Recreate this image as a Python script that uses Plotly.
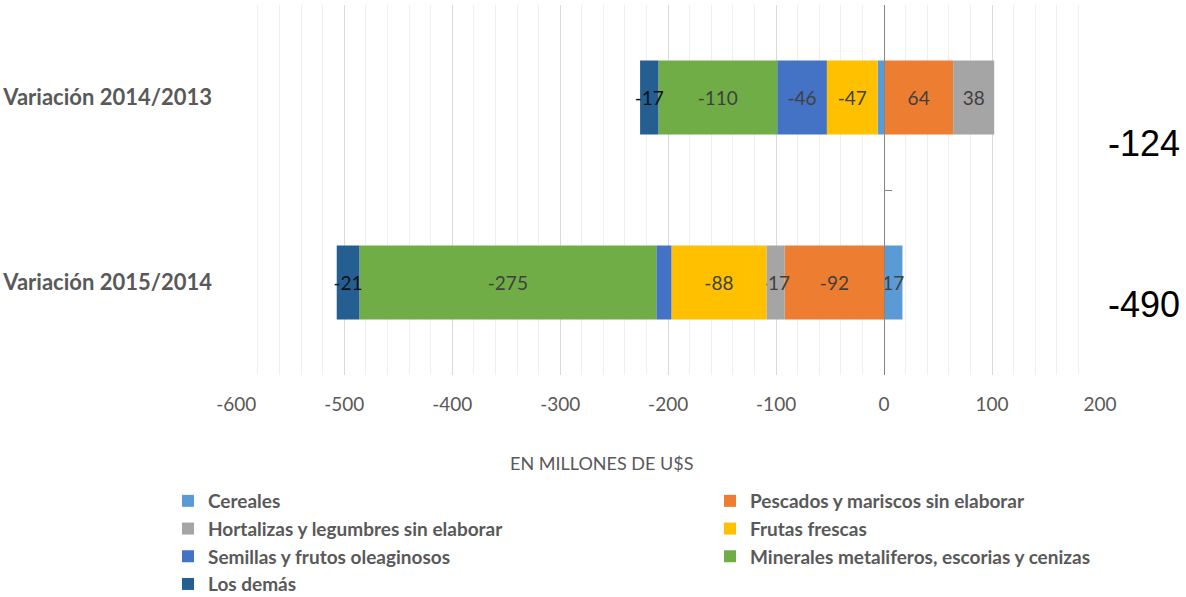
import plotly.graph_objects as go

categories = ["Variación 2014/2013", "Variación 2015/2014"]
series_names = [
    "Cereales",
    "Pescados y mariscos sin elaborar",
    "Hortalizas y legumbres sin elaborar",
    "Frutas frescas",
    "Semillas y frutos oleaginosos",
    "Minerales metaliferos, escorias y cenizas",
    "Los demás",
]
cereales = [-6, 17]
pescados = [64, -92]
hortalizas = [38, -17]
frutas = [-47, -88]
semillas = [-46, -14]
minerales = [-110, -275]
los_demas = [-17, -21]
totals = [-124, -490]
tick_values = [-600, -500, -400, -300, -200, -100, 0, 100, 200]
tick_labels = ["-600", "-500", "-400", "-300", "-200", "-100", "0", "100", "200"]

# which labels are visible (Excel hides tiny ones)
show_label = {
    "Cereales": [False, True],
    "Semillas y frutos oleaginosos": [True, False],
}
colors = ["#5B9BD5", "#ED7D31", "#A5A5A5", "#FFC000", "#4472C4", "#70AD47", "#255E91"]
label_colors = ["#404040", "#404040", "#404040", "#404040", "#404040", "#404040", "#111111"]

values = [cereales, pescados, hortalizas, frutas, semillas, minerales, los_demas]

fig = go.Figure()
for name, vals, col, lc in zip(series_names, values, colors, label_colors):
    flags = show_label.get(name, [True, True])
    texts = [str(v) if f else "" for v, f in zip(vals, flags)]
    fig.add_trace(go.Bar(
        y=categories, x=vals, name=name, orientation="h",
        marker=dict(color=col, line=dict(width=0)),
        text=texts, textposition="inside", insidetextanchor="middle",
        textangle=0, constraintext="none",
        textfont=dict(family="Lato", size=19, color=lc),
        hoverinfo="skip",
    ))

# invisible trace to carry the zero-line axis
fig.add_trace(go.Scatter(
    x=[0, 0], y=categories, yaxis="y2", mode="lines",
    line=dict(width=0), showlegend=False, hoverinfo="skip",
))

xmin, xmax = -600, 200
zero_pos = (0 - xmin) / (xmax - xmin)
L, R, T, B = 236, 86, 5, 222
plot_w = 1186 - L - R
plot_h = 597 - T - B

fig.update_layout(
    width=1186, height=597,
    barmode="relative", bargap=0.6,
    paper_bgcolor="white", plot_bgcolor="white",
    margin=dict(l=L, r=R, t=T, b=B, autoexpand=False),
    font=dict(family="Lato", color="#595959"),
    uniformtext=dict(minsize=19, mode="show"),
    xaxis=dict(
        range=[xmin - 0.3, xmax], tickvals=tick_values, ticktext=tick_labels,
        showgrid=True, gridcolor="#D9D9D9", gridwidth=1,
        minor=dict(dtick=20, tick0=0, showgrid=True, gridcolor="#EFEFEF", gridwidth=1),
        zeroline=False, showline=False, ticks="",
        tickfont=dict(family="Lato", size=19, color="#595959"),
        ticklabelstandoff=16, automargin=False,
    ),
    yaxis=dict(
        type="category", categoryarray=categories, autorange="reversed",
        showgrid=False, zeroline=False, showline=False, ticks="",
        tickfont=dict(family="Lato", size=22, color="#595959", weight="bold"),
        ticklabelstandoff=23, automargin=False,
    ),
    yaxis2=dict(
        type="category", categoryarray=categories, autorange="reversed",
        overlaying="y", anchor="free", position=zero_pos,
        showline=True, linecolor="#868686", linewidth=1,
        ticks="inside", ticklen=7, tickcolor="#868686", tickson="boundaries",
        showticklabels=False, showgrid=False, zeroline=False, automargin=False,
    ),
    legend=dict(
        orientation="h", x=(168 - L) / plot_w, xanchor="left",
        y=-(603 - T - plot_h) / plot_h, yanchor="bottom",
        entrywidth=497, entrywidthmode="pixels",
        font=dict(family="Lato", size=19, color="#595959", weight="bold"),
        itemwidth=30, traceorder="normal", tracegroupgap=0,
    ),
    showlegend=True,
)

fig.add_annotation(
    text="EN MILLONES DE U$S", xref="paper", yref="paper",
    x=(601 - L) / plot_w, y=1 - (463 - T) / plot_h, xanchor="center", yanchor="middle",
    showarrow=False, font=dict(family="Lato", size=18, color="#595959"),
)

total_y = [1 - (143 - T) / plot_h, 1 - (304 - T) / plot_h]
for t, yy in zip(totals, total_y):
    fig.add_annotation(
        text=str(t), xref="paper", yref="paper",
        x=1.0, y=yy, xanchor="left", yanchor="middle", xshift=6,
        showarrow=False, font=dict(family="Liberation Sans", size=36, color="#000000"),
    )

fig.write_html("out.html", config={"displayModeBar": False},
               post_script="document.body.style.margin='0';")
